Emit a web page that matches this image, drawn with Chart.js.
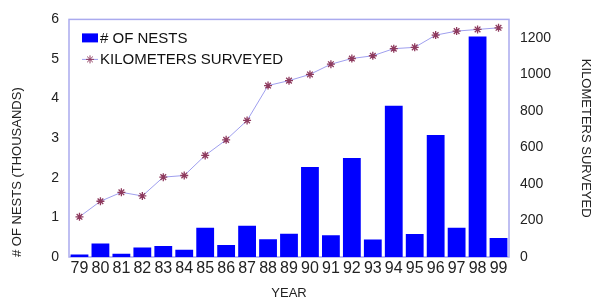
<!DOCTYPE html>
<html>
<head>
<meta charset="utf-8">
<style>
  html, body { margin: 0; padding: 0; background: #fff; }
  #chart { display: block; }
</style>
<script src="https://cdn.jsdelivr.net/npm/chart.js@4/dist/chart.umd.min.js"></script>
</head>
<body>
<canvas id="chart" width="602" height="301"></canvas>
<script>
// years on the x axis
const years = ['79', '80', '81', '82', '83', '84', '85', '86', '87', '88', '89',
  '90', '91', '92', '93', '94', '95', '96', '97', '98', '99'];
// nests, in thousands (left axis)
const nests = [0.06, 0.34, 0.08, 0.24, 0.28, 0.18, 0.74, 0.30, 0.79, 0.45, 0.59,
  2.27, 0.55, 2.50, 0.44, 3.82, 0.58, 3.08, 0.74, 5.57, 0.48];
// kilometers surveyed (right axis)
const kmSurveyed = [220, 305, 354, 334, 437, 446, 556, 641, 747, 938, 965,
  999, 1055, 1086, 1101, 1140, 1147, 1214, 1236, 1245, 1254];
const nestTicks = [0, 1, 2, 3, 4, 5, 6];
const kmTicks = [0, 200, 400, 600, 800, 1000, 1200];

const FONT = "'Liberation Sans', Arial, sans-serif";
const FRAME = '#aaaaee';
const LINE = '#9f9fee';
const STAR = '#8e3a5e';
const BLUE = '#0000ff';

// lavender box round the plot area
const framePlugin = {
  id: 'frame',
  beforeDatasetsDraw(chart) {
    const { ctx, chartArea: a } = chart;
    ctx.save();
    ctx.strokeStyle = FRAME;
    ctx.lineWidth = 1.5;
    ctx.strokeRect(a.left, a.top, a.right - a.left, a.bottom - a.top);
    ctx.restore();
  },
};

// legend sits inside the plot, top left
const legendPlugin = {
  id: 'insideLegend',
  afterDraw(chart) {
    const { ctx, chartArea: a } = chart;
    const x = a.left + 13;
    ctx.save();
    ctx.font = '15px ' + FONT;
    ctx.textBaseline = 'middle';

    ctx.fillStyle = BLUE;
    ctx.fillRect(x, a.top + 14, 16, 9);
    ctx.fillStyle = '#111';
    ctx.fillText(chart.data.datasets[0].label, x + 18, a.top + 19);

    const y2 = a.top + 40;
    ctx.strokeStyle = LINE;
    ctx.lineWidth = 1;
    ctx.beginPath();
    ctx.moveTo(x, y2);
    ctx.lineTo(x + 16, y2);
    ctx.stroke();
    ctx.strokeStyle = STAR;
    Chart.helpers.drawPoint(ctx, { pointStyle: 'star', radius: 4, borderWidth: 1.3, rotation: 0 }, x + 8, y2);
    ctx.fillText(chart.data.datasets[1].label, x + 18, y2);
    ctx.restore();
  },
};

new Chart(document.getElementById('chart'), {
  data: {
    labels: years,
    datasets: [
      {
        type: 'bar',
        label: '# OF NESTS',
        data: nests,
        yAxisID: 'y',
        backgroundColor: BLUE,
        borderWidth: 0,
        categoryPercentage: 1,
        barPercentage: 0.85,
        order: 2,
      },
      {
        type: 'line',
        label: 'KILOMETERS SURVEYED',
        data: kmSurveyed,
        yAxisID: 'y1',
        borderColor: LINE,
        borderWidth: 1,
        tension: 0,
        pointStyle: 'star',
        pointRadius: 4,
        pointBorderWidth: 1.3,
        pointBorderColor: STAR,
        pointBackgroundColor: STAR,
        order: 1,
      },
    ],
  },
  options: {
    responsive: false,
    animation: false,
    layout: { padding: { top: 18, left: 0, right: 0, bottom: 0 } },
    plugins: {
      legend: { display: false },
      tooltip: { enabled: false },
    },
    scales: {
      x: {
        offset: true,
        grid: { display: false, drawTicks: false },
        border: { display: false },
        ticks: {
          autoSkip: false,
          maxRotation: 0,
          padding: 2,
          color: '#222',
          font: { family: FONT, size: 16 },
        },
        title: {
          display: true,
          text: 'YEAR',
          color: '#222',
          padding: { top: 0, bottom: 0 },
          font: { family: FONT, size: 13 },
        },
        afterFit(scale) { scale.height = 44; },
      },
      y: {
        position: 'left',
        min: 0,
        max: 6,
        grid: { display: false, drawTicks: false },
        border: { display: false },
        afterBuildTicks(scale) { scale.ticks = nestTicks.map((v) => ({ value: v })); },
        ticks: {
          padding: 10,
          color: '#222',
          font: { family: FONT, size: 14 },
          callback: (v) => String(v),
        },
        title: {
          display: true,
          text: '# OF NESTS (THOUSANDS)',
          align: 'start',
          color: '#222',
          padding: { top: 10, bottom: 0 },
          font: { family: FONT, size: 13 },
        },
        afterFit(scale) { scale.width = 69; },
      },
      y1: {
        position: 'right',
        min: 0,
        max: 1300,
        grid: { display: false, drawTicks: false },
        border: { display: false },
        afterBuildTicks(scale) { scale.ticks = kmTicks.map((v) => ({ value: v })); },
        ticks: {
          padding: 11,
          color: '#222',
          font: { family: FONT, size: 14 },
          callback: (v) => String(v),
        },
        title: {
          display: true,
          text: 'KILOMETERS SURVEYED',
          color: '#222',
          padding: { top: 9, bottom: 0 },
          font: { family: FONT, size: 13 },
        },
        afterFit(scale) { scale.width = 93; },
      },
    },
  },
  plugins: [framePlugin, legendPlugin],
});
</script>
</body>
</html>
